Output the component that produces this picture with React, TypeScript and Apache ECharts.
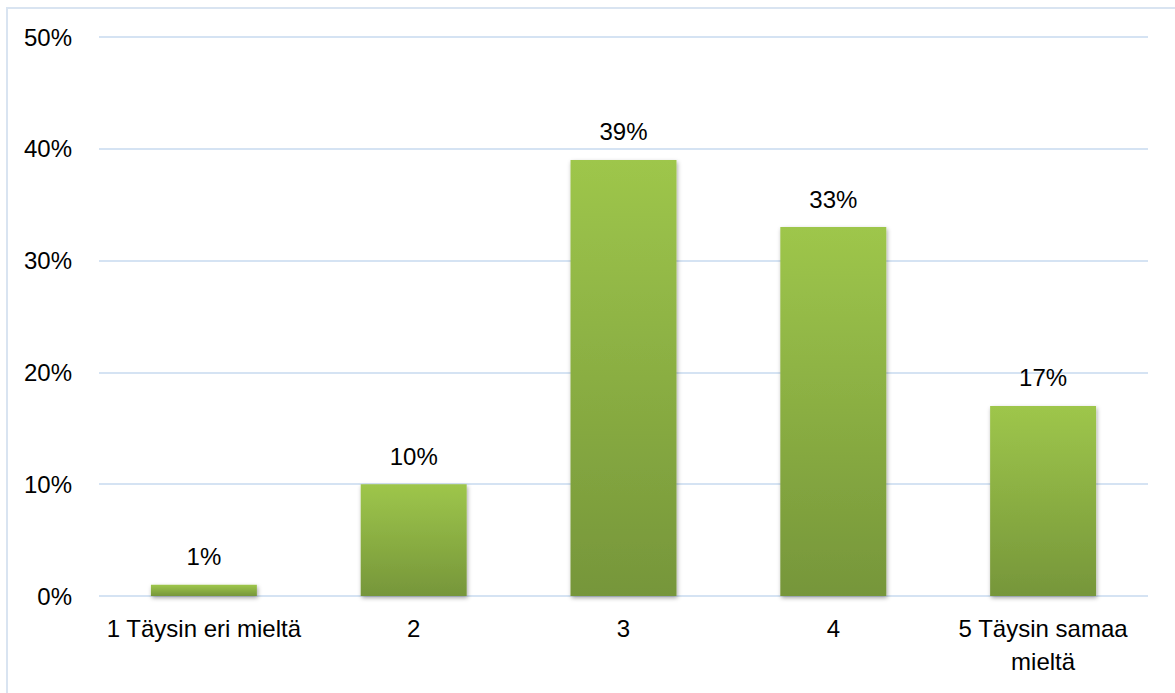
import React, { useEffect, useRef } from "react";
import * as echarts from "echarts";

const categories = ["1 Täysin eri mieltä", "2", "3", "4", "5 Täysin samaa\nmieltä"];
const values = [1, 10, 39, 33, 17];
const yTicks = [0, 10, 20, 30, 40, 50];

const FONT = "'Liberation Sans Narrow', 'Arial Narrow', 'Liberation Sans', Arial, sans-serif";
const FS = 24;

export default function App() {
  const ref = useRef<HTMLDivElement>(null);
  useEffect(() => {
    if (!ref.current) return;
    const chart = echarts.init(ref.current, undefined, { renderer: "svg" });
    chart.setOption({
      animation: false,
      backgroundColor: "#ffffff",
      graphic: [
        {
          type: "rect",
          shape: { x: 7, y: 8, width: 1300, height: 900 },
          style: { fill: "none", stroke: "#d9e4f1", lineWidth: 2 },
          silent: true,
        },
      ],
      grid: { left: 99, right: 27, top: 37, bottom: 97, containLabel: false },
      xAxis: {
        type: "category",
        data: categories,
        axisLine: { show: false },
        axisTick: { show: false },
        axisLabel: {
          color: "#000",
          fontFamily: FONT,
          fontSize: FS,
          lineHeight: 33,
          margin: 16,
          interval: 0,
        },
      },
      yAxis: {
        type: "value",
        min: yTicks[0],
        max: yTicks[yTicks.length - 1],
        interval: 10,
        axisLine: { show: false },
        axisTick: { show: false },
        splitLine: { lineStyle: { color: "#d5e3f3", width: 2 } },
        axisLabel: {
          color: "#000",
          fontFamily: FONT,
          fontSize: FS,
          margin: 27,
          formatter: (v: number) => v + "%",
        },
      },
      series: [
        {
          type: "bar",
          data: values,
          barWidth: "50.5%",
          itemStyle: {
            color: new echarts.graphic.LinearGradient(0, 0, 0, 1, [
              { offset: 0, color: "#9ec64b" },
              { offset: 1, color: "#76963a" },
            ]),
            shadowColor: "rgba(0,0,0,0.35)",
            shadowBlur: 4,
            shadowOffsetX: 1,
            shadowOffsetY: 2,
          },
          label: {
            show: true,
            position: "top",
            distance: 16,
            color: "#000",
            fontFamily: FONT,
            fontSize: FS,
            formatter: (p: any) => p.value + "%",
          },
        },
      ],
    });
    return () => chart.dispose();
  }, []);
  return (
    <div
      ref={ref}
      style={{ position: "fixed", left: 0, top: 0, width: 1175, height: 693 }}
    />
  );
}
